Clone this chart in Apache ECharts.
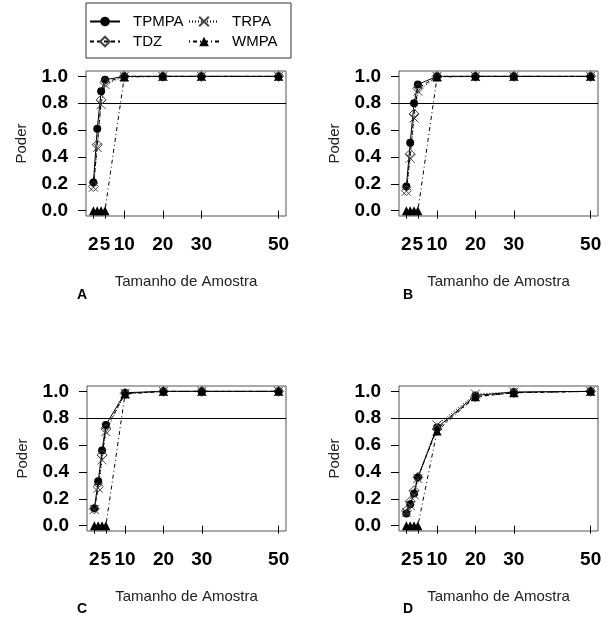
<!DOCTYPE html>
<html lang="pt">
<head>
    <meta charset="UTF-8">
    <title>Poder x Tamanho de Amostra</title>
    <script src="https://cdn.jsdelivr.net/npm/echarts@6/dist/echarts.min.js"></script>
    <style>
        html, body { margin: 0; padding: 0; background: #fff; }
        #main { width: 610px; height: 622px; }
    </style>
</head>
<body>
<div id="main"></div>
<script type="text/javascript">
    // tamanhos de amostra e marcas dos eixos
    var sampleSizes = [2, 3, 4, 5, 10, 20, 30, 50];
    var xTicks = [2, 5, 10, 20, 30, 50];
    var yTicks = [0, 0.2, 0.4, 0.6, 0.8, 1.0];
    var powerRef = 0.8;
    var panelLetters = ['A', 'B', 'C', 'D'];
    var seriesNames = ['TPMPA', 'TDZ', 'TRPA', 'WMPA'];

    // poder estimado, painel A
    var tpmpaA = [0.21, 0.61, 0.89, 0.975, 1.0, 1.0, 1.0, 1.0];
    var tdzA   = [0.18, 0.49, 0.825, 0.955, 1.0, 1.0, 1.0, 1.0];
    var trpaA  = [0.175, 0.47, 0.79, 0.94, 1.0, 1.0, 1.0, 1.0];
    var wmpaA  = [0, 0, 0, 0, 0.995, 1.0, 1.0, 1.0];
    // painel B
    var tpmpaB = [0.18, 0.505, 0.80, 0.94, 1.0, 1.0, 1.0, 1.0];
    var tdzB   = [0.15, 0.42, 0.72, 0.91, 1.0, 1.0, 1.0, 1.0];
    var trpaB  = [0.145, 0.39, 0.69, 0.89, 1.0, 1.0, 1.0, 1.0];
    var wmpaB  = [0, 0, 0, 0, 0.995, 1.0, 1.0, 1.0];
    // painel C
    var tpmpaC = [0.13, 0.33, 0.56, 0.75, 0.99, 1.0, 1.0, 1.0];
    var tdzC   = [0.125, 0.29, 0.525, 0.72, 0.985, 1.0, 1.0, 1.0];
    var trpaC  = [0.12, 0.28, 0.49, 0.70, 0.985, 1.0, 1.0, 1.0];
    var wmpaC  = [0, 0, 0, 0, 0.98, 1.0, 1.0, 1.0];
    // painel D
    var tpmpaD = [0.09, 0.16, 0.24, 0.36, 0.73, 0.97, 0.995, 1.0];
    var tdzD   = [0.11, 0.18, 0.26, 0.36, 0.72, 0.96, 0.99, 1.0];
    var trpaD  = [0.10, 0.15, 0.23, 0.35, 0.75, 0.98, 0.995, 1.0];
    var wmpaD  = [0, 0, 0, 0, 0.705, 0.96, 0.99, 1.0];

    var panels = [
        [tpmpaA, tdzA, trpaA, wmpaA],
        [tpmpaB, tdzB, trpaB, wmpaB],
        [tpmpaC, tdzC, trpaC, wmpaC],
        [tpmpaD, tdzD, trpaD, wmpaD]
    ];

    var grids = [
        { left: 86, top: 71, width: 200, height: 145 },
        { left: 399, top: 71, width: 199, height: 145 },
        { left: 87, top: 386, width: 199, height: 145 },
        { left: 399, top: 386, width: 199, height: 145 }
    ];

    // estilo de cada metodo (linha + simbolo)
    var styles = {
        TPMPA: {
            symbol: 'circle', symbolSize: 8,
            itemStyle: { color: '#000' },
            lineStyle: { color: '#000', width: 1, type: 'solid' }
        },
        TDZ: {
            symbol: 'path://M5,0L10,5L5,10L0,5Z', symbolSize: 10,
            itemStyle: { color: 'rgba(0,0,0,0)', borderColor: '#444', borderWidth: 1 },
            lineStyle: { color: '#000', width: 1, type: [4, 3] }
        },
        TRPA: {
            symbol: 'path://M0,0L10,10M10,0L0,10', symbolSize: 9,
            itemStyle: { color: 'rgba(0,0,0,0)', borderColor: '#444', borderWidth: 1 },
            lineStyle: { color: '#000', width: 1, type: [1, 2] }
        },
        WMPA: {
            symbol: 'triangle', symbolSize: 9,
            itemStyle: { color: '#000' },
            lineStyle: { color: '#000', width: 1, type: [1, 3, 4, 3] }
        }
    };

    var myChart = echarts.init(document.getElementById('main'), null, { renderer: 'canvas' });

    var xAxes = [], yAxes = [], series = [], titles = [];
    grids.forEach(function (g, i) {
        g.show = true;
        g.borderColor = '#555';
        g.borderWidth = 1;
        g.containLabel = false;

        xAxes.push({
            type: 'value', gridIndex: i, min: 0.08, max: 51.92,
            axisLine: { show: false },
            splitLine: { show: false },
            axisTick: { show: true, customValues: xTicks, length: 8, lineStyle: { color: '#000' } },
            axisLabel: {
                customValues: xTicks, margin: 19, color: '#000',
                fontFamily: 'Liberation Sans', fontWeight: 'bold', fontSize: 19
            },
            name: 'Tamanho de Amostra', nameLocation: 'middle', nameGap: 58,
            nameTextStyle: { fontFamily: 'Liberation Sans', fontSize: 15, color: '#222' }
        });
        yAxes.push({
            type: 'value', gridIndex: i, min: -0.04, max: 1.04,
            axisLine: { show: false },
            splitLine: { show: false },
            axisTick: { show: true, customValues: yTicks, length: 8, lineStyle: { color: '#000' } },
            axisLabel: {
                customValues: yTicks, margin: 18, color: '#000',
                fontFamily: 'Liberation Sans', fontWeight: 'bold', fontSize: 19,
                formatter: function (v) { return v.toFixed(1); }
            },
            name: 'Poder', nameLocation: 'middle', nameGap: 57,
            nameTextStyle: { fontFamily: 'Liberation Sans', fontSize: 15, color: '#222' }
        });
        titles.push({
            text: panelLetters[i],
            left: i % 2 === 0 ? 77 : 403,
            top: i < 2 ? 288 : 602,
            padding: 0,
            textStyle: { fontFamily: 'Liberation Sans', fontWeight: 'bold', fontSize: 14, color: '#000' }
        });

        seriesNames.forEach(function (name, k) {
            var s = styles[name];
            var item = {
                name: name, type: 'line',
                xAxisIndex: i, yAxisIndex: i,
                data: sampleSizes.map(function (n, j) { return [n, panels[i][k][j]]; }),
                symbol: s.symbol, symbolSize: s.symbolSize,
                itemStyle: s.itemStyle, lineStyle: s.lineStyle,
                showSymbol: true, animation: false, silent: true,
                z: 3 + k
            };
            if (k === 0) {
                // linha de referencia do poder = 0.8
                item.markLine = {
                    silent: true, symbol: 'none', label: { show: false },
                    lineStyle: { color: '#000', width: 1, type: 'solid' },
                    data: [{ yAxis: powerRef }]
                };
            }
            series.push(item);
        });
    });

    var option = {
        backgroundColor: '#fff',
        animation: false,
        title: titles,
        legend: {
            left: 86, top: 3, width: 220,
            padding: [10, 7, 8, 3],
            itemGap: 3, itemWidth: 30, itemHeight: 12,
            borderColor: '#333', borderWidth: 1,
            data: ['TPMPA', 'TRPA', 'TDZ', 'WMPA'],
            textStyle: {
                fontFamily: 'Liberation Sans', fontSize: 15, color: '#000',
                width: 52, lineHeight: 17, padding: [0, 0, 0, 8]
            }
        },
        grid: grids,
        xAxis: xAxes,
        yAxis: yAxes,
        series: series
    };

    option && myChart.setOption(option);
</script>
</body>
</html>
